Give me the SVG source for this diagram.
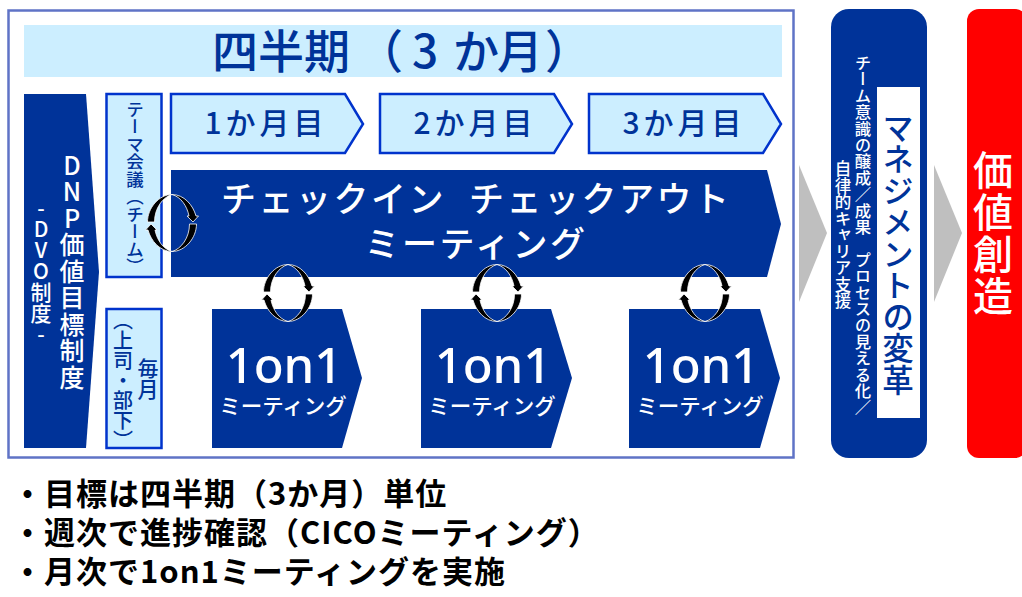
<svg xmlns="http://www.w3.org/2000/svg" width="1022" height="597" viewBox="0 0 1022 597">
<style>
text{font-family:"Noto Sans CJK JP","Noto Sans",sans-serif;}
.navy{fill:#003399;}
.pale{fill:#cceeff;stroke:#0033cc;stroke-width:2.500;}
.gray{fill:#bfbfbf;}
.w{fill:#fff;}
.b{fill:#003399;}
.m{text-anchor:middle;}
.v{writing-mode:vertical-rl;text-orientation:upright;text-anchor:middle;font-weight:500;}
.l{font-size:31px;font-weight:700;letter-spacing:1px;fill:#000;}
.mon{font-size:30px;font-weight:500;letter-spacing:4px;fill:#003399;text-anchor:middle;}
.big{font-size:35px;font-weight:500;letter-spacing:2.500px;fill:#fff;}
.one{font-family:"Noto Sans",sans-serif;font-size:49px;font-weight:500;letter-spacing:0;fill:#fff;text-anchor:middle;}
.sub{font-size:21.500px;font-weight:500;fill:#fff;text-anchor:middle;}
</style>
<defs>
<g id="cyc">
<path id="a1" fill="#000" stroke="#fff" stroke-width="0.8" d="M0,-28.5C12,-28.5 21,-18 24,-7L26.500,-7L21,-1L15,-7L17,-7C15,-17 9,-26 0,-28.5ZM17.500,1L24.500,1C24.500,15 13,28.5 0,28.5C9,26 17.500,15 17.500,1Z"/>
<use href="#a1" transform="rotate(180)"/>
</g>
</defs>
<rect id="frame" x="8.500" y="10.500" width="785" height="447" fill="#fff" stroke="#5f73c6" stroke-width="2.500"/>
<g id="quarter"><rect x="24" y="25" width="758" height="52" fill="#cceeff"/><text class="b" x="212 258 304 357 412 453 497 545" y="68" font-size="46" font-weight="500">四半期（3か月）</text></g>
<g id="dvo"><path class="navy" d="M24,94H86L99,272L86,448H24Z"/>
<text class="v w" x="72" y="272" font-size="25" letter-spacing="1.500">DNP価値目標制度</text>
<text class="v w" x="41" y="271" font-size="21">-DVO制度-</text></g>
<g id="theme"><rect class="pale" x="106.500" y="94" width="55" height="183"/><text class="v b" x="135" y="188" font-size="17.500">テーマ会議（チーム）</text></g>
<g id="monthly"><rect class="pale" x="106.500" y="309" width="55" height="139"/><text class="v b" x="123" y="380" font-size="20">（上司・部下）</text><text class="v b" x="148" y="379" font-size="21">毎月</text></g>
<g id="m1"><path class="pale" d="M171,94H345L363,124L345,153H171Z"/><text class="mon" x="266" y="134">1か月目</text></g>
<g id="m2"><path class="pale" d="M380,94H554L572,124L554,153H380Z"/><text class="mon" x="475" y="134">2か月目</text></g>
<g id="m3"><path class="pale" d="M589,94H763L781,124L763,153H589Z"/><text class="mon" x="684" y="134">3か月目</text></g>
<g id="cico"><path class="navy" d="M171,170H767L781,224L767,277H171Z"/>
<text class="big" y="212"><tspan x="221">チェックイン</tspan><tspan x="469">チェックアウト</tspan></text>
<text class="big m" x="476" y="257">ミーティング</text></g>
<g id="o1"><path class="navy" d="M212,309H342L362,378L342,448H212Z"/><text class="one" x="284" y="383">1on1</text><text class="sub" x="283" y="414">ミーティング</text></g>
<g id="o2"><path class="navy" d="M421,309H551L572,378L551,448H421Z"/><text class="one" x="493" y="383">1on1</text><text class="sub" x="492" y="414">ミーティング</text></g>
<g id="o3"><path class="navy" d="M629,309H760L780,378L760,448H629Z"/><text class="one" x="701" y="383">1on1</text><text class="sub" x="700" y="414">ミーティング</text></g>
<g id="connectors">
<use href="#cyc" transform="translate(172,223)"/>
<use href="#cyc" transform="translate(288,293)"/>
<use href="#cyc" transform="translate(497,293)"/>
<use href="#cyc" transform="translate(705,293)"/>
<path class="gray" d="M799,165L827,233L799,302Z"/>
<path class="gray" d="M934,165L962,233L934,302Z"/>
</g>
<g id="mgmt"><rect class="navy" x="831" y="9" width="96" height="449" rx="18"/><rect x="877" y="87" width="43" height="331" fill="#fff"/>
<text class="v b" x="898" y="254" font-size="31.500">マネジメントの変革</text>
<text class="v w" x="863" y="235" font-size="16.400">チーム意識の醸成／成果 プロセスの見える化／</text>
<text class="v w" x="843" y="235" font-size="16.500">自律的キャリア支援</text></g>
<g id="value"><rect x="967" y="9" width="60" height="449" rx="12" fill="#ff0000"/><text class="v w" x="993" y="234" font-size="40" letter-spacing="2">価値創造</text></g>
<g id="notes">
<text class="l" x="12" y="505">・目標は四半期（3か月）単位</text>
<text class="l" x="12" y="544">・週次で進捗確認（CICOミーティング）</text>
<text class="l" x="12" y="583">・月次で1on1ミーティングを実施</text>
</g>
</svg>
